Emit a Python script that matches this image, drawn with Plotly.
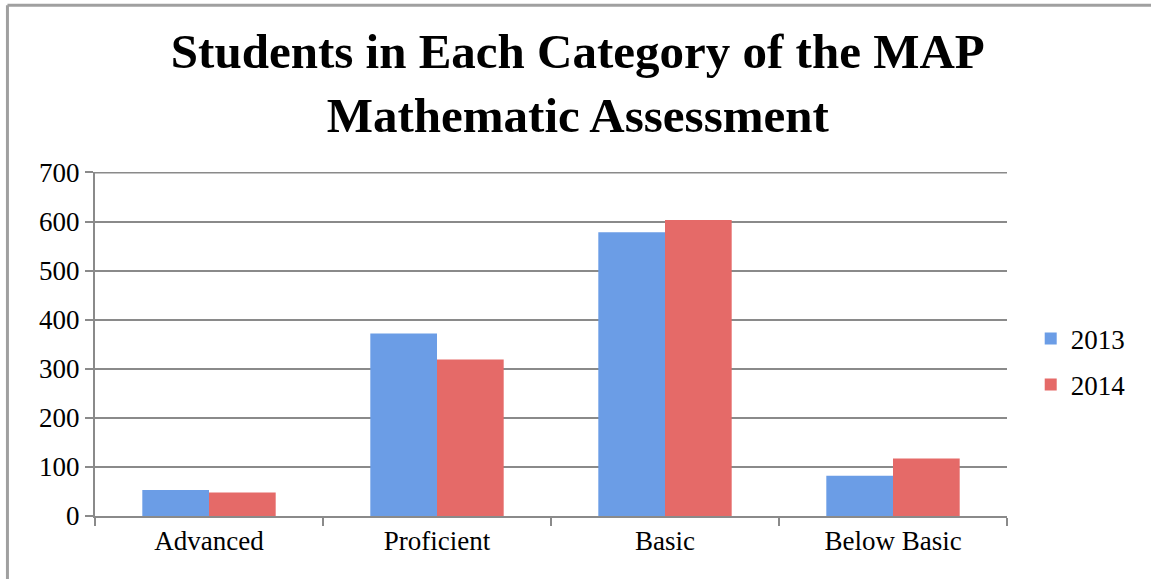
import plotly.graph_objects as go

categories = ["Advanced", "Proficient", "Basic", "Below Basic"]
series_names = ["2013", "2014"]
values_2013 = [53, 372, 578, 82]
values_2014 = [48, 319, 603, 117]
y_ticks = [0, 100, 200, 300, 400, 500, 600, 700]
title_text = "Students in Each Category of the MAP<br>Mathematic Assessment"

colors = {"2013": "#6b9de6", "2014": "#e56a68"}
FONT = "Liberation Serif"
GRID = "#8a8a8a"

fig = go.Figure()
for name, vals in zip(series_names, [values_2013, values_2014]):
    fig.add_trace(go.Bar(
        x=categories, y=vals, name=name, legendgroup=name,
        marker=dict(color=colors[name], line=dict(width=0)),
    ))

fig.update_layout(
    width=1151, height=579,
    paper_bgcolor="white", plot_bgcolor="white",
    margin=dict(l=95, r=144, t=172, b=63),
    barmode="group", bargap=0.415, bargroupgap=0,
    title=dict(text=title_text, x=0.502, xanchor="center", y=0.882, yanchor="top",
               font=dict(family=FONT, size=49, color="black", weight="bold")),
    font=dict(family=FONT, size=27, color="black"),
    legend=dict(x=1.026, y=0.448, xanchor="left", yanchor="middle",
                font=dict(family=FONT, size=27), tracegroupgap=8,
                itemwidth=30, bgcolor="rgba(0,0,0,0)"),
    showlegend=True,
    xaxis=dict(showline=True, linecolor=GRID, linewidth=2,
               ticks="outside", tickson="boundaries", ticklen=8, tickcolor=GRID,
               tickwidth=1.5, showgrid=False, tickfont=dict(size=27)),
    yaxis=dict(range=[0, 701], tickvals=y_ticks, showline=True, linecolor=GRID,
               linewidth=2, gridcolor=GRID, gridwidth=2, ticks="outside",
               ticklen=8, tickcolor=GRID, tickwidth=2, zeroline=False,
               tickfont=dict(size=27)),
    shapes=[
        dict(type="line", xref="paper", yref="y", x0=0, x1=1, y0=y_ticks[-1], y1=y_ticks[-1],
             layer="below", line=dict(color=GRID, width=2)),
        dict(type="line", xref="paper", yref="paper", x0=-0.096, x1=1.2, y0=1.485, y1=1.485,
             line=dict(color="#a0a0a0", width=3)),
        dict(type="line", xref="paper", yref="paper", x0=-0.096, x1=-0.096, y0=-0.3, y1=1.485,
             line=dict(color="#a0a0a0", width=3)),
    ],
)

fig.write_html("out.html", config={"displayModeBar": False},
               post_script="document.body.style.margin='0';")
